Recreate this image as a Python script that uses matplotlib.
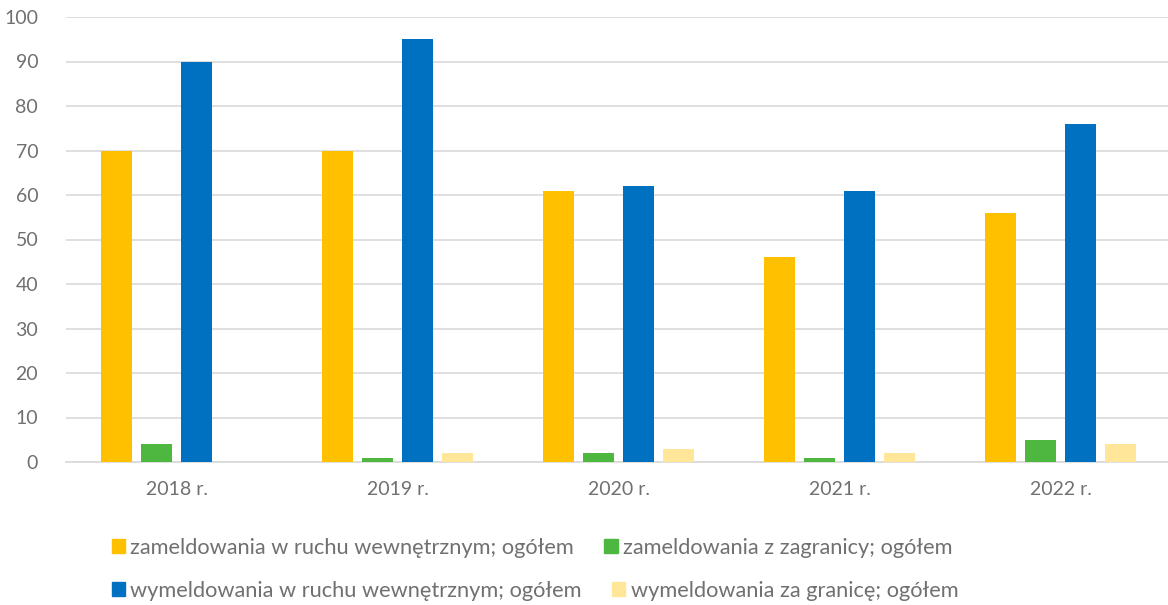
import matplotlib.pyplot as plt
import numpy as np
from matplotlib.patches import Patch

plt.rcParams['font.family'] = ['Lato', 'DejaVu Sans']

lata = ['2018 r.', '2019 r.', '2020 r.', '2021 r.', '2022 r.']
zam_wewn = [70, 70, 61, 46, 56]
zam_zagr = [4, 1, 2, 1, 5]
wym_wewn = [90, 95, 62, 61, 76]
wym_zagr = [0, 2, 3, 2, 4]

serie = [
    ('zameldowania w ruchu wewnętrznym; ogółem', zam_wewn, '#FFC000'),
    ('zameldowania z zagranicy; ogółem', zam_zagr, '#4DB740'),
    ('wymeldowania w ruchu wewnętrznym; ogółem', wym_wewn, '#0070C0'),
    ('wymeldowania za granicę; ogółem', wym_zagr, '#FFE699'),
]

szary = '#707070'
fig = plt.figure(figsize=(11.68, 6.05), dpi=100)
ax = fig.add_axes([66 / 1168, 1 - 462 / 605, 1105 / 1168, 445 / 605])

x = np.arange(len(lata))
slot = 0.181
szer = 0.14
for i, (nazwa, wart, kolor) in enumerate(serie):
    ax.bar(x + (i - 1.5) * slot, wart, width=szer, color=kolor, label=nazwa, zorder=3)

ax.set_xlim(-0.5, len(lata) - 0.5)
ax.set_ylim(0, 100)
ax.set_yticks(range(0, 101, 10))
ax.set_xticks(x)
ax.set_xticklabels(lata)
ax.grid(axis='y', color='#D9D9D9', linewidth=1.2, zorder=0)
for s in ['top', 'right', 'left']:
    ax.spines[s].set_visible(False)
ax.spines['bottom'].set_color('#D9D9D9')
ax.spines['bottom'].set_linewidth(1.2)
ax.tick_params(axis='both', length=0, labelsize=14, colors=szary, pad=14)
ax.tick_params(axis='y', pad=20)

uchwyty = [Patch(color=k) for _, _, k in serie]
nazwy = [n for n, _, _ in serie]
for rz, y in [(0, 548), (1, 591)]:
    fig.legend(uchwyty[2 * rz:2 * rz + 2], nazwy[2 * rz:2 * rz + 2], ncol=2,
               loc='center left', bbox_to_anchor=(92 / 1168, 1 - y / 605),
               frameon=False, fontsize=15.7, labelcolor=szary,
               handlelength=0.6, handleheight=0.6, handletextpad=0.25, columnspacing=1.4)

fig.savefig('out.png', dpi=100)
